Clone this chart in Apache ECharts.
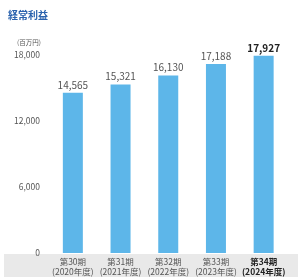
<!DOCTYPE html>
<html><head><meta charset="utf-8">
<script src="https://cdn.jsdelivr.net/npm/echarts@6/dist/echarts.min.js"></script>
<style>html,body{margin:0;padding:0;background:#fff}#c{width:300px;height:280px}</style>
</head><body><div id="c"></div>
<script>
const categories = ['第30期\n(2020年度)','第31期\n(2021年度)','第32期\n(2022年度)','第33期\n(2023年度)','第34期\n(2024年度)'];
const values = [14565, 15321, 16130, 17188, 17927];
const yTicks = [0, 6000, 12000, 18000];
const titleText = '経常利益';
const unitText = '(百万円)';

const font = '"Noto Sans CJK JP", "Noto Sans", sans-serif';
const fmt = v => v.toLocaleString('en-US');
const last = values.length - 1;
const chart = echarts.init(document.getElementById('c'), null, {renderer: 'canvas'});
chart.setOption({
  animation: false,
  textStyle: {fontFamily: font},
  graphic: [{
    type: 'rect', left: 4, top: 254, shape: {width: 294, height: 23},
    style: {fill: '#e9e9e9'}, z: 0
  }],
  title: {text: titleText, left: 3, top: 5, textStyle: {fontSize: 10, fontWeight: 'bold', color: '#2a62ae', fontFamily: font}},
  grid: {left: 49, right: 12.5, top: 55, bottom: 27},
  xAxis: {
    type: 'category', data: categories,
    axisLine: {show: false}, axisTick: {show: false},
    axisLabel: {
      interval: 0, fontSize: 8.5, lineHeight: 10, margin: 4, color: '#555',
      formatter: (v, i) => i === last ? '{b|' + v.replace('\n', '}\n{b|') + '}' : v,
      rich: {b: {fontSize: 8.5, lineHeight: 10, fontWeight: 'bold', color: '#222'}}
    }
  },
  yAxis: {
    type: 'value', min: yTicks[0], max: yTicks[yTicks.length - 1], interval: 6000,
    name: unitText, nameLocation: 'end', nameGap: 9,
    nameTextStyle: {fontSize: 6.5, color: '#555', align: 'right', padding: [0, 8, 0, 0]},
    axisLine: {show: false}, axisTick: {show: false}, splitLine: {show: false},
    axisLabel: {fontSize: 8.5, color: '#555', margin: 9, padding: [0, 0, 7, 0], formatter: v => fmt(v)}
  },
  series: [{
    type: 'bar', barWidth: 20, z: 2,
    data: values.map((v, i) => ({value: v})),
    itemStyle: {color: '#5db6e9'},
    label: {
      show: true, position: 'top', distance: 3, fontSize: 10,
      formatter: p => p.dataIndex === last ? '{b|' + fmt(p.value) + '}' : fmt(p.value),
      color: '#555', rich: {b: {fontSize: 10, fontWeight: 'bold', color: '#222'}}
    }
  }]
});
</script></body></html>
